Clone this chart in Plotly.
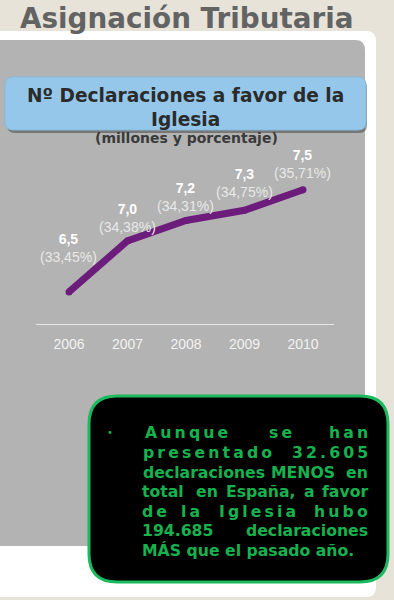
import plotly.graph_objects as go

# ---------------- data ----------------
years = ["2006", "2007", "2008", "2009", "2010"]
declaraciones = [6.5, 7.0, 7.2, 7.3, 7.5]          # millones
porcentajes = [33.45, 34.38, 34.31, 34.75, 35.71]   # %

title_main = "Asignación Tributaria"
title_box = "Nº Declaraciones a favor de la<br>Iglesia"
subtitle = "(millones y porcentaje)"

# ---------------- layout helpers ----------------
W, H = 394, 600
TS = "\u2009"  # thin space for letter spacing


def px(x):
    return x / W


def py(y):
    return 1 - y / H


def rrect(x0, y0, x1, y1, r):
    def p(x, y):
        return f"{px(x):.5f},{py(y):.5f}"
    return (f"M {p(x0 + r, y0)} L {p(x1 - r, y0)} Q {p(x1, y0)} {p(x1, y0 + r)} "
            f"L {p(x1, y1 - r)} Q {p(x1, y1)} {p(x1 - r, y1)} L {p(x0 + r, y1)} "
            f"Q {p(x0, y1)} {p(x0, y1 - r)} L {p(x0, y0 + r)} Q {p(x0, y0)} {p(x0 + r, y0)} Z")


def spaced(word):
    return TS.join(list(word))


fig = go.Figure()

fig.add_trace(go.Scatter(
    x=list(range(len(years))), y=declaraciones, mode="lines+markers",
    line=dict(color="#6c1c7b", width=7),
    marker=dict(color="#6c1c7b", size=7),
    hoverinfo="skip", showlegend=False,
))

shapes = [
    # white panel
    dict(type="path", path=rrect(-20, 31, 376, 597, 10), fillcolor="#ffffff",
         line=dict(width=0), xref="paper", yref="paper", layer="below"),
    # gray panel
    dict(type="path", path=rrect(-20, 40, 365, 546, 10), fillcolor="#b3b3b3",
         line=dict(width=0), xref="paper", yref="paper", layer="below"),
    # blue box shadow
    dict(type="path", path=rrect(7, 80, 367, 133, 8), fillcolor="rgba(70,70,70,0.55)",
         line=dict(width=0), xref="paper", yref="paper", layer="below"),
    # blue box
    dict(type="path", path=rrect(5, 77, 366, 130, 8), fillcolor="#94c7e9",
         line=dict(width=1, color="#86b9dc"), xref="paper", yref="paper", layer="below"),
    # black box
    dict(type="path", path=rrect(89, 396, 388, 582, 28), fillcolor="#000000",
         line=dict(width=3, color="#1cba5e"), xref="paper", yref="paper", layer="above"),
]

annotations = []

# main title
annotations.append(dict(text=f"<b>{title_main}</b>", x=px(18), y=py(19), xref="paper", yref="paper",
                        xanchor="left", yanchor="middle", showarrow=False,
                        font=dict(family="DejaVu Sans", size=27.8, color="#636363")))
# blue box title
annotations.append(dict(text=f"<b>{title_box}</b>", x=px(185), y=py(108), xref="paper", yref="paper",
                        xanchor="center", yanchor="middle", showarrow=False,
                        font=dict(family="DejaVu Sans", size=18.6, color="#2b2b2b")))
# subtitle
annotations.append(dict(text=f"<b>{subtitle}</b>", x=px(186), y=py(138), xref="paper", yref="paper",
                        xanchor="center", yanchor="middle", showarrow=False,
                        font=dict(family="DejaVu Sans", size=14, color="#3a3a3a")))

# data labels
label_shift = [44, 23, 23, 27, 26]
for i, (v, p, s) in enumerate(zip(declaraciones, porcentajes, label_shift)):
    vt = f"{v:.1f}".replace(".", ",")
    pt = f"({p:.2f}%)".replace(".", ",")
    annotations.append(dict(
        text=f"<b>{vt}</b><br><span style='color:#e8e8e8'>{pt}</span>",
        x=i, y=v, xref="x", yref="y", yshift=s, showarrow=False,
        xanchor="center", yanchor="middle",
        font=dict(family="Liberation Sans", size=14, color="#ffffff"),
    ))

# black box justified text (word placement)
text_lines = [
    (432, [(spaced("Aunque"), 143, "left"), (spaced("se"), 280, "center"), (spaced("han"), 370, "right")]),
    (452, [(spaced("presentado"), 141, "left"), (spaced("32.605"), 370, "right")]),
    (472, [("declaraciones", 141, "left"), ("MENOS", 303, "center"), ("en", 370, "right")]),
    (491, [("total", 140, "left"), ("en", 207, "center"), ("España,", 261, "center"), ("a", 309, "center"), ("favor", 370, "right")]),
    (511, [(spaced("de"), 140, "left"), (spaced("la"), 190, "center"), (spaced("Iglesia"), 257.5, "center"), (spaced("hubo"), 370, "right")]),
    (530, [("194.685", 140, "left"), ("declaraciones", 370, "right")]),
    (550, [("MÁS que el pasado año.", 140, "left")]),
]
for yv, words in text_lines:
    for w, xv, anc in words:
        annotations.append(dict(text=f"<b>{w}</b>", x=px(xv), y=py(yv), xref="paper", yref="paper",
                                xanchor=anc, yanchor="middle", showarrow=False,
                                font=dict(family="DejaVu Sans", size=15.7, color="#17b24e")))
annotations.append(dict(text="•", x=px(110), y=py(432), xref="paper", yref="paper",
                        xanchor="center", yanchor="middle", showarrow=False,
                        font=dict(family="DejaVu Sans", size=10, color="#17b24e")))

fig.update_layout(
    width=W, height=H,
    margin=dict(l=0, r=0, t=0, b=0),
    paper_bgcolor="#e7e3d9",
    plot_bgcolor="rgba(0,0,0,0)",
    shapes=shapes,
    annotations=annotations,
    xaxis=dict(domain=[px(36), px(334)], range=[-0.564, 4.53],
               tickmode="array", tickvals=list(range(len(years))), ticktext=years,
               showline=True, linecolor="#e6e6e6", linewidth=1, showgrid=False, zeroline=False,
               ticks="outside", ticklen=7, tickcolor="rgba(0,0,0,0)",
               tickfont=dict(family="Liberation Sans", size=14, color="#f2f2f2"),
               fixedrange=True),
    yaxis=dict(domain=[py(324), py(150)], range=[6.186, 7.89], visible=False, fixedrange=True),
    showlegend=False,
)

fig.write_html("out.html", config={"displayModeBar": False},
               post_script="document.body.style.margin='0';document.body.style.padding='0';")
